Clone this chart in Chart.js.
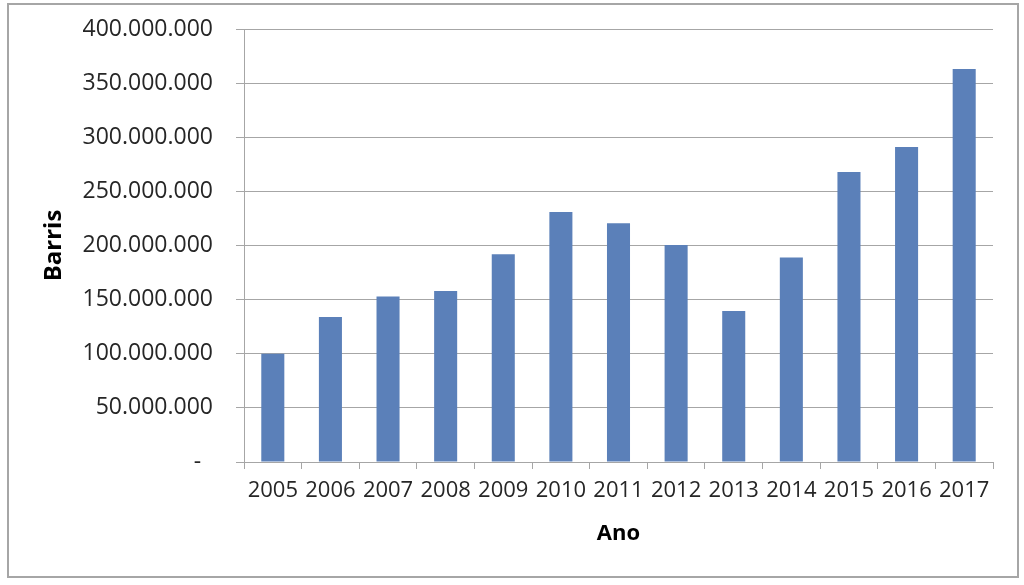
<!DOCTYPE html>
<html>
<head>
<meta charset="utf-8">
<script src="https://cdn.jsdelivr.net/npm/chart.js@4"></script>
<style>
  html, body { margin: 0; padding: 0; background: #fff; }
  #frame {
    position: absolute; left: 7px; top: 3px;
    width: 1008px; height: 571px;
    border: 2px solid #a6a6a6;
  }
  #wrap { position: absolute; left: 0; top: 0; width: 1024px; height: 585px; }
</style>
</head>
<body>
<div id="frame"></div>
<div id="wrap"><canvas id="chart" width="1024" height="585"></canvas></div>
<script>
// Barris por ano
const years = ['2005', '2006', '2007', '2008', '2009', '2010', '2011',
               '2012', '2013', '2014', '2015', '2016', '2017'];
const barris = [100000000, 134000000, 153000000, 158000000, 192000000, 231000000, 220500000,
                200500000, 139500000, 189000000, 268000000, 291000000, 363000000];
const yTicks = [0, 50000000, 100000000, 150000000, 200000000, 250000000,
                300000000, 350000000, 400000000];

const fmt = v => v === 0 ? '-  ' : v.toLocaleString('de-DE');
const gridColor = '#a6a6a6';

const ctx = document.getElementById('chart');

new Chart(ctx, {
    type: 'bar',
    data: {
        labels: years,
        datasets: [{
            label: 'Barris',
            data: barris,
            backgroundColor: '#5b80b9',
            borderWidth: 0,
            barPercentage: 0.8,
            categoryPercentage: 0.5
        }]
    },
    options: {
        responsive: false,
        animation: false,
        layout: {
            padding: { top: 29, right: 31, left: 0, bottom: 0 }
        },
        plugins: {
            legend: { display: false },
            tooltip: { enabled: false }
        },
        scales: {
            y: {
                min: 0,
                max: 400000000,
                afterBuildTicks: s => { s.ticks = yTicks.map(v => ({ value: v })); },
                afterFit: s => {
                    s.width = 244;
                    s.paddingTop = 0;
                    s.paddingBottom = 0;
                },
                border: { color: gridColor, width: 1 },
                grid: {
                    color: gridColor,
                    lineWidth: 1,
                    tickLength: 8
                },
                ticks: {
                    color: '#262626',
                    padding: 23,
                    font: { family: 'Open Sans', size: 23 },
                    callback: v => fmt(v)
                },
                title: {
                    display: true,
                    text: 'Barris',
                    color: '#000',
                    font: { family: 'Open Sans', size: 24, weight: 'bold' },
                    padding: { top: 40, bottom: 0 }
                }
            },
            x: {
                afterFit: s => {
                    s.height = 123;
                    s.paddingLeft = 0;
                    s.paddingRight = 0;
                },
                border: { color: gridColor, width: 1 },
                grid: {
                    drawOnChartArea: false,
                    color: gridColor,
                    tickLength: 7
                },
                ticks: {
                    color: '#262626',
                    padding: 9,
                    maxRotation: 0,
                    font: { family: 'Open Sans', size: 22 }
                },
                title: {
                    display: true,
                    text: 'Ano',
                    color: '#000',
                    font: { family: 'Open Sans', size: 22, weight: 'bold' },
                    padding: { top: 0, bottom: 38 }
                }
            }
        }
    }
});
</script>
</body>
</html>
